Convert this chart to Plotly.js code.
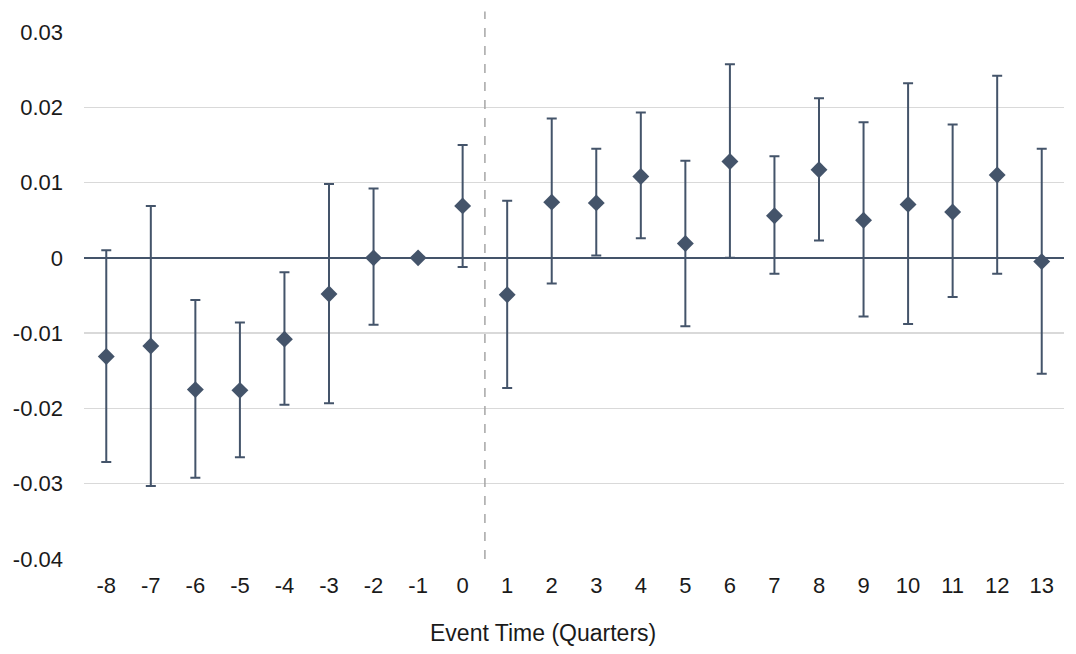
<!DOCTYPE html>
<html>
<head>
<meta charset="utf-8">
<script src="https://cdn.plot.ly/plotly-3.0.1.min.js"></script>
<style>html,body{margin:0;padding:0;background:#fff;}#chart{width:1076px;height:654px;}</style>
</head>
<body>
<div id="chart"></div>
<script>
const eventTime = [-8,-7,-6,-5,-4,-3,-2,-1,0,1,2,3,4,5,6,7,8,9,10,11,12,13];
const estimate  = [-0.0131,-0.0117,-0.0175,-0.0176,-0.0108,-0.0048,0.0000,0.0000,0.0069,-0.0049,0.0074,0.0073,0.0108,0.0019,0.0128,0.0056,0.0117,0.0050,0.0071,0.0061,0.0110,-0.0005];
const upperCI   = [0.0010,0.0069,-0.0056,-0.0086,-0.0019,0.0098,0.0092,0.0000,0.0150,0.0076,0.0185,0.0145,0.0193,0.0129,0.0257,0.0135,0.0212,0.0180,0.0232,0.0177,0.0242,0.0145];
const lowerCI   = [-0.0271,-0.0303,-0.0292,-0.0265,-0.0195,-0.0193,-0.0089,0.0000,-0.0012,-0.0173,-0.0034,0.0003,0.0026,-0.0091,0.0000,-0.0021,0.0023,-0.0078,-0.0088,-0.0052,-0.0021,-0.0154];
const yTicks = [-0.04,-0.03,-0.02,-0.01,0,0.01,0.02,0.03];
const yTickText = ['-0.04','-0.03','-0.02','-0.01','0','0.01','0.02','0.03'];
const xTitle = 'Event Time (Quarters)';
const eventLine = 0.5;

const col = '#44546a';
const trace = {
  x: eventTime, y: estimate, type: 'scatter', mode: 'markers',
  marker: {symbol: 'diamond', size: 13, color: col},
  error_y: {
    type: 'data', symmetric: false,
    array: upperCI.map((u,i) => u - estimate[i]),
    arrayminus: estimate.map((e,i) => e - lowerCI[i]),
    color: col, thickness: 2, width: 5
  },
  hoverinfo: 'x+y'
};
const layout = {
  width: 1076, height: 654,
  margin: {l: 84, r: 12, t: 32, b: 95},
  paper_bgcolor: '#fff', plot_bgcolor: '#fff',
  font: {family: 'Liberation Sans, Arial, sans-serif', size: 22, color: '#1a1a1a'},
  showlegend: false,
  xaxis: {
    range: [-8.5, 13.5], tickmode: 'array', tickvals: eventTime,
    ticktext: eventTime.map(String),
    showgrid: false, zeroline: false, showline: false, ticks: '',
    ticklabelstandoff: 11,
    title: {text: ''}
  },
  yaxis: {
    range: [-0.04, 0.03], tickmode: 'array', tickvals: yTicks, ticktext: yTickText,
    showgrid: true, gridcolor: '#d9d9d9', gridwidth: 1.5,
    zeroline: true, zerolinecolor: col, zerolinewidth: 2.5,
    showline: false, ticks: '', ticklabelstandoff: 20
  },
  annotations: [{
    text: xTitle, xref: 'paper', yref: 'paper', x: 0.4684, y: -0.1404,
    xanchor: 'center', yanchor: 'middle', showarrow: false,
    font: {size: 23, color: '#1a1a1a'}
  }],
  shapes: [{
    type: 'line', xref: 'x', yref: 'paper', x0: eventLine, x1: eventLine, y0: 0, y1: 1.039,
    line: {color: '#a6a6a6', width: 1.5, dash: 'dash'}
  }]
};
Plotly.newPlot('chart', [trace], layout, {displayModeBar: false, staticPlot: true});
</script>
</body>
</html>
